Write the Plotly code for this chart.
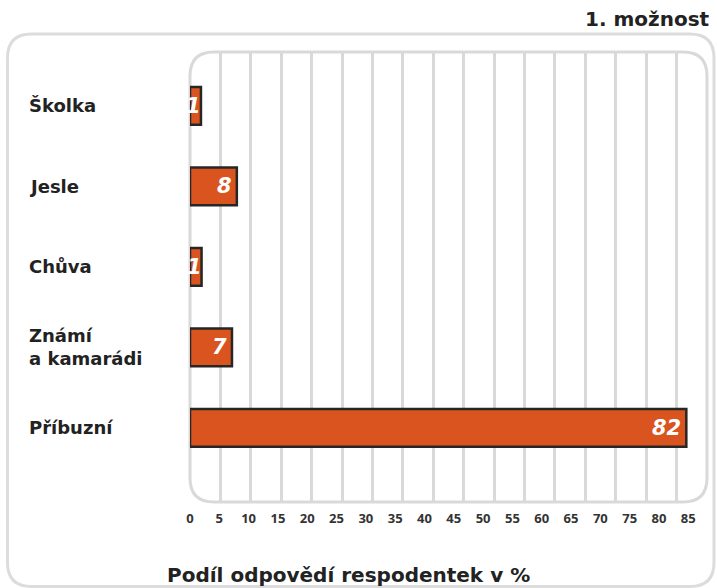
import plotly.graph_objects as go

categories = ["Příbuzní", "Známí<br>a kamarádi", "Chůva", "Jesle", "Školka"]
value_labels = [82, 7, 1, 8, 1]
# bar lengths (labels are rounded values)
bar_lengths = [81.6, 6.9, 1.9, 7.7, 1.8]
tick_values = list(range(0, 90, 5))
tick_labels = [str(v) for v in tick_values]
title_text = "1. možnost"
axis_title = "Podíl odpovědí respodentek v %"

W, H = 717, 588
L, R, T, B = 190, 10, 52, 86
PW, PH = W - L - R, H - T - B

def px(x):
    return (x - L) / PW

def py(y):
    return (H - B - y) / PH

def rounded_rect(x0, y0, x1, y1, r):
    a, b, c, d = px(x0), py(y0), px(x1), py(y1)
    rx, ry = r / PW, r / PH
    return (f"M {a+rx},{b} L {c-rx},{b} Q {c},{b} {c},{b-ry} "
            f"L {c},{d+ry} Q {c},{d} {c-rx},{d} L {a+rx},{d} "
            f"Q {a},{d} {a},{d+ry} L {a},{b-ry} Q {a},{b} {a+rx},{b} Z")

FONT = "DejaVu Sans"
DARK = "#222222"
ORANGE = "#D9541E"

fig = go.Figure()
fig.add_trace(go.Bar(
    y=list(range(len(categories))), x=bar_lengths, orientation="h",
    width=0.47,
    marker=dict(color=ORANGE, line=dict(color="#262626", width=2.5)),
    hoverinfo="skip",
))

annotations = []
for i, (c, v, lab) in enumerate(zip(categories, bar_lengths, value_labels)):
    annotations.append(dict(
        x=v, y=i, xref="x", yref="y", text=str(lab), showarrow=False,
        xanchor="right", xshift=2 if lab < 3 else -3,
        font=dict(family=FONT, size=21, color="white", weight="bold", style="italic"),
    ))
    annotations.append(dict(
        x=px(27), y=i, xref="paper", yref="y", text=c, showarrow=False,
        xanchor="left", align="left",
        font=dict(family=FONT, size=18, color=DARK, weight="bold"),
    ))
annotations.append(dict(
    x=px(712), y=py(19), xref="paper", yref="paper", text=title_text,
    showarrow=False, xanchor="right", yanchor="middle",
    font=dict(family=FONT, size=20, color=DARK, weight="bold"),
))
annotations.append(dict(
    x=px(165), y=py(575), xref="paper", yref="paper", text=axis_title,
    showarrow=False, xanchor="left", yanchor="middle",
    font=dict(family=FONT, size=20, color=DARK, weight="bold"),
))

shapes = [
    dict(type="path", xref="paper", yref="paper",
         path=rounded_rect(7.5, 34, 714, 586.5, 24),
         line=dict(color="#dcdcdc", width=3), layer="below"),
    dict(type="path", xref="paper", yref="paper",
         path=rounded_rect(190, 52, 707, 502, 24),
         line=dict(color="#d9d9d9", width=3), layer="below"),
]

fig.update_layout(
    width=W, height=H,
    margin=dict(l=L, r=R, t=T, b=B),
    paper_bgcolor="white", plot_bgcolor="rgba(0,0,0,0)",
    showlegend=False,
    annotations=annotations, shapes=shapes,
    xaxis=dict(range=[0, 85], tickvals=tick_values[1:-1], ticktext=tick_labels[1:-1],
               showgrid=True, gridcolor="#d9d9d9", gridwidth=2.5,
               zeroline=False, showline=False, ticks="",
               showticklabels=False, fixedrange=True),
    yaxis=dict(range=[-0.92, 4.67], showticklabels=False, showgrid=False,
               zeroline=False, showline=False, fixedrange=True),
    # tick labels in the reference sit on a slightly tighter scale than the grid
    xaxis2=dict(range=[0, 88.2], overlaying="x", side="bottom", anchor="y",
                tickvals=tick_values, ticktext=tick_labels, showgrid=False,
                zeroline=False, showline=False, ticks="",
                tickfont=dict(family="Open Sans", size=13, color="#333333", weight="bold"),
                ticklabelstandoff=7, fixedrange=True),
)
fig.add_trace(go.Scatter(x=[0, 85], y=[None, None], xaxis="x2", yaxis="y",
                         mode="markers", hoverinfo="skip", showlegend=False))

fig.write_html(
    "out.html",
    config={"displayModeBar": False},
    post_script="document.body.style.margin='0';"
                "document.documentElement.style.overflow='hidden';"
                "document.body.style.overflow='hidden';",
)
